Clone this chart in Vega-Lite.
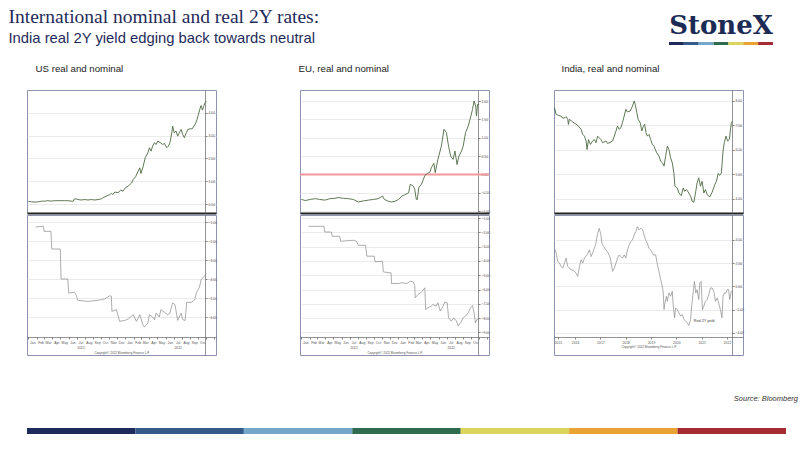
{
  "$schema": "https://vega.github.io/schema/vega-lite/v6.json",
  "background": "white",
  "padding": {"left": 8, "top": 7, "right": 0, "bottom": 0},
  "datasets": {
    "stripes": [
      {"seg": "a", "w": 1, "row": "s"}, {"seg": "b", "w": 1, "row": "s"}, {"seg": "c", "w": 1, "row": "s"}, {"seg": "d", "w": 1, "row": "s"},
      {"seg": "e", "w": 1, "row": "s"}, {"seg": "f", "w": 1, "row": "s"}, {"seg": "g", "w": 1, "row": "s"}
    ],
    "us_nom": [
      {"d": "2021-01-01", "v": 0.12}, {"d": "2021-01-13", "v": 0.10}, {"d": "2021-01-26", "v": 0.09}, {"d": "2021-02-08", "v": 0.10},
      {"d": "2021-02-20", "v": 0.13}, {"d": "2021-03-03", "v": 0.13}, {"d": "2021-03-15", "v": 0.15}, {"d": "2021-03-27", "v": 0.13},
      {"d": "2021-04-09", "v": 0.15}, {"d": "2021-04-22", "v": 0.15}, {"d": "2021-05-04", "v": 0.15}, {"d": "2021-05-16", "v": 0.15},
      {"d": "2021-05-29", "v": 0.15}, {"d": "2021-06-11", "v": 0.13}, {"d": "2021-06-19", "v": 0.13}, {"d": "2021-06-23", "v": 0.23},
      {"d": "2021-06-29", "v": 0.23}, {"d": "2021-07-06", "v": 0.20}, {"d": "2021-07-18", "v": 0.18}, {"d": "2021-08-01", "v": 0.20},
      {"d": "2021-08-13", "v": 0.18}, {"d": "2021-08-26", "v": 0.20}, {"d": "2021-09-08", "v": 0.18}, {"d": "2021-09-20", "v": 0.20},
      {"d": "2021-10-02", "v": 0.23}, {"d": "2021-10-09", "v": 0.28}, {"d": "2021-10-21", "v": 0.35}, {"d": "2021-11-03", "v": 0.42},
      {"d": "2021-11-09", "v": 0.47}, {"d": "2021-11-15", "v": 0.42}, {"d": "2021-11-22", "v": 0.53}, {"d": "2021-12-04", "v": 0.50},
      {"d": "2021-12-14", "v": 0.61}, {"d": "2021-12-23", "v": 0.57}, {"d": "2022-01-01", "v": 0.72}, {"d": "2022-01-11", "v": 0.79},
      {"d": "2022-01-24", "v": 0.93}, {"d": "2022-01-30", "v": 1.08}, {"d": "2022-02-08", "v": 1.20}, {"d": "2022-02-18", "v": 1.45},
      {"d": "2022-02-24", "v": 1.59}, {"d": "2022-02-28", "v": 1.34}, {"d": "2022-03-07", "v": 1.59}, {"d": "2022-03-16", "v": 2.03},
      {"d": "2022-03-26", "v": 2.25}, {"d": "2022-04-01", "v": 2.47}, {"d": "2022-04-07", "v": 2.32}, {"d": "2022-04-13", "v": 2.54},
      {"d": "2022-04-20", "v": 2.69}, {"d": "2022-04-26", "v": 2.61}, {"d": "2022-05-02", "v": 2.76}, {"d": "2022-05-12", "v": 2.69},
      {"d": "2022-05-21", "v": 2.61}, {"d": "2022-05-27", "v": 2.66}, {"d": "2022-06-05", "v": 2.47}, {"d": "2022-06-11", "v": 2.54},
      {"d": "2022-06-17", "v": 2.69}, {"d": "2022-06-24", "v": 3.12}, {"d": "2022-06-27", "v": 3.42}, {"d": "2022-07-03", "v": 3.12},
      {"d": "2022-07-10", "v": 3.20}, {"d": "2022-07-16", "v": 2.98}, {"d": "2022-07-22", "v": 3.12}, {"d": "2022-07-29", "v": 3.27},
      {"d": "2022-08-04", "v": 3.05}, {"d": "2022-08-10", "v": 2.91}, {"d": "2022-08-17", "v": 3.12}, {"d": "2022-08-23", "v": 3.27},
      {"d": "2022-09-01", "v": 3.30}, {"d": "2022-09-09", "v": 3.30}, {"d": "2022-09-15", "v": 3.42}, {"d": "2022-09-21", "v": 3.53},
      {"d": "2022-09-27", "v": 3.71}, {"d": "2022-10-02", "v": 3.93}, {"d": "2022-10-07", "v": 4.15}, {"d": "2022-10-12", "v": 4.32},
      {"d": "2022-10-17", "v": 4.12}, {"d": "2022-10-22", "v": 4.29}, {"d": "2022-10-27", "v": 4.44}, {"d": "2022-11-01", "v": 4.51}
    ],
    "us_real": [
      {"d": "2021-01-28", "v": -1.26}, {"d": "2021-02-20", "v": -1.23}, {"d": "2021-02-27", "v": -1.23}, {"d": "2021-03-01", "v": -1.49},
      {"d": "2021-03-27", "v": -1.49}, {"d": "2021-03-30", "v": -2.42}, {"d": "2021-05-01", "v": -2.42}, {"d": "2021-05-04", "v": -4.00},
      {"d": "2021-05-29", "v": -4.00}, {"d": "2021-06-02", "v": -4.74}, {"d": "2021-06-23", "v": -4.70}, {"d": "2021-06-29", "v": -4.82},
      {"d": "2021-07-06", "v": -5.12}, {"d": "2021-08-13", "v": -5.18}, {"d": "2021-09-20", "v": -5.12}, {"d": "2021-10-15", "v": -5.05},
      {"d": "2021-11-03", "v": -4.88}, {"d": "2021-11-09", "v": -4.91}, {"d": "2021-11-11", "v": -5.70}, {"d": "2021-11-28", "v": -5.61},
      {"d": "2021-12-10", "v": -6.23}, {"d": "2021-12-29", "v": -6.18}, {"d": "2022-01-11", "v": -6.11}, {"d": "2022-01-30", "v": -5.88},
      {"d": "2022-02-11", "v": -6.23}, {"d": "2022-02-24", "v": -5.88}, {"d": "2022-03-07", "v": -6.40}, {"d": "2022-03-13", "v": -6.53},
      {"d": "2022-03-26", "v": -6.32}, {"d": "2022-04-01", "v": -5.88}, {"d": "2022-04-13", "v": -6.00}, {"d": "2022-04-20", "v": -6.14},
      {"d": "2022-04-26", "v": -5.79}, {"d": "2022-05-08", "v": -6.00}, {"d": "2022-05-14", "v": -5.61}, {"d": "2022-05-27", "v": -5.75},
      {"d": "2022-06-09", "v": -5.88}, {"d": "2022-06-17", "v": -5.79}, {"d": "2022-06-27", "v": -5.26}, {"d": "2022-07-06", "v": -5.35},
      {"d": "2022-07-16", "v": -6.18}, {"d": "2022-07-29", "v": -5.79}, {"d": "2022-08-04", "v": -6.14}, {"d": "2022-08-13", "v": -6.18},
      {"d": "2022-08-19", "v": -5.23}, {"d": "2022-09-05", "v": -5.23}, {"d": "2022-09-18", "v": -5.09}, {"d": "2022-09-24", "v": -4.74},
      {"d": "2022-10-06", "v": -4.42}, {"d": "2022-10-12", "v": -4.04}, {"d": "2022-10-18", "v": -3.95}, {"d": "2022-11-01", "v": -3.72}
    ],
    "eu_nom": [
      {"d": "2021-01-01", "v": -0.68}, {"d": "2021-01-16", "v": -0.71}, {"d": "2021-02-04", "v": -0.68}, {"d": "2021-02-23", "v": -0.66},
      {"d": "2021-03-11", "v": -0.68}, {"d": "2021-03-30", "v": -0.70}, {"d": "2021-04-18", "v": -0.66}, {"d": "2021-05-07", "v": -0.65},
      {"d": "2021-05-19", "v": -0.63}, {"d": "2021-06-08", "v": -0.65}, {"d": "2021-06-26", "v": -0.66}, {"d": "2021-07-15", "v": -0.68},
      {"d": "2021-08-03", "v": -0.75}, {"d": "2021-08-22", "v": -0.72}, {"d": "2021-09-10", "v": -0.70}, {"d": "2021-09-29", "v": -0.68},
      {"d": "2021-10-17", "v": -0.66}, {"d": "2021-11-02", "v": -0.59}, {"d": "2021-11-09", "v": -0.68}, {"d": "2021-11-24", "v": -0.73},
      {"d": "2021-12-06", "v": -0.75}, {"d": "2021-12-19", "v": -0.73}, {"d": "2022-01-01", "v": -0.68}, {"d": "2022-01-14", "v": -0.59},
      {"d": "2022-01-26", "v": -0.55}, {"d": "2022-02-08", "v": -0.50}, {"d": "2022-02-14", "v": -0.27}, {"d": "2022-02-26", "v": -0.32},
      {"d": "2022-03-03", "v": -0.41}, {"d": "2022-03-09", "v": -0.68}, {"d": "2022-03-13", "v": -0.68}, {"d": "2022-03-18", "v": -0.36},
      {"d": "2022-03-28", "v": -0.27}, {"d": "2022-04-10", "v": -0.03}, {"d": "2022-04-20", "v": 0.03}, {"d": "2022-04-29", "v": 0.06},
      {"d": "2022-05-04", "v": 0.18}, {"d": "2022-05-14", "v": 0.30}, {"d": "2022-05-19", "v": 0.05}, {"d": "2022-05-29", "v": 0.41},
      {"d": "2022-06-11", "v": 0.77}, {"d": "2022-06-21", "v": 1.23}, {"d": "2022-06-30", "v": 1.14}, {"d": "2022-07-08", "v": 0.77},
      {"d": "2022-07-16", "v": 0.50}, {"d": "2022-07-25", "v": 0.41}, {"d": "2022-08-01", "v": 0.64}, {"d": "2022-08-09", "v": 0.27},
      {"d": "2022-08-16", "v": 0.50}, {"d": "2022-08-26", "v": 0.64}, {"d": "2022-09-01", "v": 0.77}, {"d": "2022-09-10", "v": 1.14},
      {"d": "2022-09-20", "v": 1.32}, {"d": "2022-09-30", "v": 1.59}, {"d": "2022-10-06", "v": 1.77}, {"d": "2022-10-12", "v": 2.00},
      {"d": "2022-10-18", "v": 1.86}, {"d": "2022-10-21", "v": 1.59}, {"d": "2022-10-25", "v": 1.91}, {"d": "2022-10-31", "v": 1.91}
    ],
    "eu_real": [
      {"d": "2021-01-28", "v": -1.58}, {"d": "2021-03-27", "v": -1.58}, {"d": "2021-03-30", "v": -1.98}, {"d": "2021-04-24", "v": -1.98},
      {"d": "2021-04-27", "v": -2.28}, {"d": "2021-05-25", "v": -2.28}, {"d": "2021-05-29", "v": -2.63}, {"d": "2021-06-26", "v": -2.58},
      {"d": "2021-07-15", "v": -2.56}, {"d": "2021-07-27", "v": -2.63}, {"d": "2021-08-03", "v": -2.91}, {"d": "2021-08-30", "v": -2.91},
      {"d": "2021-09-04", "v": -3.67}, {"d": "2021-10-02", "v": -3.67}, {"d": "2021-10-05", "v": -4.07}, {"d": "2021-11-02", "v": -4.02},
      {"d": "2021-11-05", "v": -4.77}, {"d": "2021-12-04", "v": -4.84}, {"d": "2021-12-06", "v": -5.58}, {"d": "2022-01-01", "v": -5.58},
      {"d": "2022-01-14", "v": -5.53}, {"d": "2022-02-02", "v": -5.58}, {"d": "2022-02-14", "v": -5.42}, {"d": "2022-02-26", "v": -5.47},
      {"d": "2022-03-03", "v": -5.72}, {"d": "2022-03-05", "v": -6.58}, {"d": "2022-03-15", "v": -6.35}, {"d": "2022-03-28", "v": -6.19},
      {"d": "2022-04-10", "v": -5.88}, {"d": "2022-04-13", "v": -7.40}, {"d": "2022-04-22", "v": -7.28}, {"d": "2022-05-04", "v": -7.16},
      {"d": "2022-05-10", "v": -7.05}, {"d": "2022-05-23", "v": -7.16}, {"d": "2022-05-29", "v": -6.93}, {"d": "2022-06-07", "v": -7.51},
      {"d": "2022-06-14", "v": -7.28}, {"d": "2022-06-24", "v": -6.88}, {"d": "2022-07-03", "v": -6.93}, {"d": "2022-07-08", "v": -7.98},
      {"d": "2022-07-18", "v": -8.21}, {"d": "2022-07-28", "v": -7.98}, {"d": "2022-08-07", "v": -8.21}, {"d": "2022-08-13", "v": -8.56},
      {"d": "2022-08-22", "v": -8.33}, {"d": "2022-09-01", "v": -7.98}, {"d": "2022-09-10", "v": -7.86}, {"d": "2022-09-20", "v": -7.63},
      {"d": "2022-09-29", "v": -7.28}, {"d": "2022-10-06", "v": -7.12}, {"d": "2022-10-12", "v": -7.63}, {"d": "2022-10-17", "v": -8.33},
      {"d": "2022-10-25", "v": -8.05}, {"d": "2022-10-31", "v": -8.05}
    ],
    "in_nom": [
      {"d": "2015-09-08", "v": 7.73}, {"d": "2015-10-02", "v": 7.45}, {"d": "2015-11-05", "v": 7.41}, {"d": "2015-12-13", "v": 7.38},
      {"d": "2016-01-06", "v": 7.29}, {"d": "2016-02-09", "v": 7.32}, {"d": "2016-02-23", "v": 7.36}, {"d": "2016-03-17", "v": 7.25},
      {"d": "2016-03-27", "v": 7.04}, {"d": "2016-04-10", "v": 7.25}, {"d": "2016-05-28", "v": 7.14}, {"d": "2016-08-08", "v": 7.00},
      {"d": "2016-09-26", "v": 6.84}, {"d": "2016-10-19", "v": 6.63}, {"d": "2016-11-13", "v": 6.56}, {"d": "2016-12-07", "v": 6.36},
      {"d": "2016-12-21", "v": 6.01}, {"d": "2017-01-10", "v": 6.42}, {"d": "2017-02-08", "v": 6.22}, {"d": "2017-03-11", "v": 6.36},
      {"d": "2017-04-05", "v": 6.42}, {"d": "2017-04-28", "v": 6.29}, {"d": "2017-05-22", "v": 6.56}, {"d": "2017-06-15", "v": 6.49},
      {"d": "2017-07-09", "v": 6.42}, {"d": "2017-08-02", "v": 6.29}, {"d": "2017-09-20", "v": 6.36}, {"d": "2017-10-13", "v": 6.26},
      {"d": "2017-11-30", "v": 6.32}, {"d": "2017-12-24", "v": 6.36}, {"d": "2018-01-17", "v": 6.56}, {"d": "2018-02-11", "v": 6.77},
      {"d": "2018-03-05", "v": 6.97}, {"d": "2018-03-28", "v": 6.84}, {"d": "2018-04-22", "v": 6.90}, {"d": "2018-05-15", "v": 7.11},
      {"d": "2018-06-09", "v": 7.38}, {"d": "2018-07-03", "v": 7.66}, {"d": "2018-07-26", "v": 7.55}, {"d": "2018-09-04", "v": 7.59},
      {"d": "2018-10-07", "v": 7.79}, {"d": "2018-10-31", "v": 8.00}, {"d": "2018-11-15", "v": 7.86}, {"d": "2018-12-09", "v": 7.52},
      {"d": "2018-12-27", "v": 7.25}, {"d": "2019-01-26", "v": 7.11}, {"d": "2019-02-19", "v": 6.77}, {"d": "2019-03-13", "v": 6.97},
      {"d": "2019-04-01", "v": 7.04}, {"d": "2019-04-20", "v": 6.70}, {"d": "2019-05-09", "v": 6.56}, {"d": "2019-06-02", "v": 6.63},
      {"d": "2019-06-26", "v": 6.42}, {"d": "2019-07-20", "v": 6.22}, {"d": "2019-08-13", "v": 6.15}, {"d": "2019-09-21", "v": 5.88},
      {"d": "2019-10-24", "v": 5.74}, {"d": "2019-11-18", "v": 5.53}, {"d": "2019-12-11", "v": 5.47}, {"d": "2020-01-05", "v": 5.33},
      {"d": "2020-01-28", "v": 5.74}, {"d": "2020-02-22", "v": 6.15}, {"d": "2020-03-16", "v": 6.01}, {"d": "2020-04-09", "v": 5.67},
      {"d": "2020-05-03", "v": 5.47}, {"d": "2020-05-26", "v": 5.05}, {"d": "2020-06-10", "v": 4.51}, {"d": "2020-07-13", "v": 4.44},
      {"d": "2020-08-07", "v": 4.23}, {"d": "2020-09-10", "v": 4.12}, {"d": "2020-10-08", "v": 4.44}, {"d": "2020-10-27", "v": 4.30},
      {"d": "2020-11-25", "v": 4.37}, {"d": "2020-12-28", "v": 4.23}, {"d": "2021-01-22", "v": 4.10}, {"d": "2021-02-15", "v": 3.89},
      {"d": "2021-03-09", "v": 3.85}, {"d": "2021-04-03", "v": 4.23}, {"d": "2021-04-26", "v": 4.64}, {"d": "2021-05-20", "v": 4.85},
      {"d": "2021-06-13", "v": 4.51}, {"d": "2021-07-07", "v": 4.71}, {"d": "2021-08-01", "v": 4.23}, {"d": "2021-08-24", "v": 4.37},
      {"d": "2021-09-18", "v": 4.16}, {"d": "2021-10-26", "v": 4.07}, {"d": "2021-11-29", "v": 4.26}, {"d": "2022-01-07", "v": 4.58},
      {"d": "2022-01-30", "v": 4.71}, {"d": "2022-02-24", "v": 5.03}, {"d": "2022-03-17", "v": 4.95}, {"d": "2022-04-11", "v": 5.05},
      {"d": "2022-05-05", "v": 5.95}, {"d": "2022-05-23", "v": 6.29}, {"d": "2022-06-17", "v": 6.56}, {"d": "2022-07-10", "v": 6.36},
      {"d": "2022-08-04", "v": 6.42}, {"d": "2022-08-18", "v": 6.77}, {"d": "2022-09-02", "v": 7.11}, {"d": "2022-09-21", "v": 7.18}
    ],
    "in_real": [
      {"d": "2015-09-08", "v": 3.29}, {"d": "2015-10-02", "v": 2.86}, {"d": "2015-10-25", "v": 2.14}, {"d": "2015-11-19", "v": 2.00},
      {"d": "2015-12-13", "v": 1.71}, {"d": "2016-01-06", "v": 1.57}, {"d": "2016-01-30", "v": 2.00}, {"d": "2016-02-23", "v": 2.43},
      {"d": "2016-03-17", "v": 1.71}, {"d": "2016-04-10", "v": 1.57}, {"d": "2016-05-04", "v": 1.43}, {"d": "2016-06-12", "v": 1.37},
      {"d": "2016-07-15", "v": 1.14}, {"d": "2016-08-08", "v": 0.86}, {"d": "2016-09-02", "v": 1.71}, {"d": "2016-09-26", "v": 2.29},
      {"d": "2016-10-19", "v": 2.00}, {"d": "2016-11-13", "v": 2.43}, {"d": "2016-12-21", "v": 2.71}, {"d": "2017-01-24", "v": 3.14},
      {"d": "2017-02-17", "v": 2.57}, {"d": "2017-03-11", "v": 2.86}, {"d": "2017-04-05", "v": 3.29}, {"d": "2017-04-28", "v": 3.71},
      {"d": "2017-05-22", "v": 4.57}, {"d": "2017-06-15", "v": 5.00}, {"d": "2017-07-09", "v": 4.43}, {"d": "2017-07-23", "v": 3.71},
      {"d": "2017-08-17", "v": 3.43}, {"d": "2017-09-20", "v": 3.14}, {"d": "2017-10-23", "v": 2.86}, {"d": "2017-11-21", "v": 2.43},
      {"d": "2017-12-24", "v": 1.29}, {"d": "2018-01-17", "v": 1.57}, {"d": "2018-02-11", "v": 2.00}, {"d": "2018-03-05", "v": 2.43},
      {"d": "2018-03-28", "v": 2.71}, {"d": "2018-04-22", "v": 2.57}, {"d": "2018-05-15", "v": 2.43}, {"d": "2018-06-09", "v": 2.71},
      {"d": "2018-07-03", "v": 2.43}, {"d": "2018-07-26", "v": 3.14}, {"d": "2018-08-20", "v": 3.57}, {"d": "2018-09-13", "v": 3.86},
      {"d": "2018-10-07", "v": 4.00}, {"d": "2018-10-31", "v": 4.43}, {"d": "2018-11-24", "v": 4.71}, {"d": "2018-12-18", "v": 5.14},
      {"d": "2019-01-11", "v": 4.86}, {"d": "2019-02-04", "v": 5.00}, {"d": "2019-02-28", "v": 4.91}, {"d": "2019-03-22", "v": 4.43},
      {"d": "2019-04-15", "v": 4.00}, {"d": "2019-05-09", "v": 3.71}, {"d": "2019-06-02", "v": 3.29}, {"d": "2019-06-26", "v": 3.14},
      {"d": "2019-08-04", "v": 2.71}, {"d": "2019-09-07", "v": 2.71}, {"d": "2019-10-01", "v": 1.86}, {"d": "2019-10-24", "v": 1.29},
      {"d": "2019-11-18", "v": 0.57}, {"d": "2019-12-11", "v": 0.00}, {"d": "2019-12-25", "v": -0.57}, {"d": "2020-01-05", "v": -2.00},
      {"d": "2020-01-14", "v": -1.57}, {"d": "2020-02-08", "v": -0.86}, {"d": "2020-02-22", "v": -1.29}, {"d": "2020-03-16", "v": -0.57},
      {"d": "2020-04-09", "v": -0.86}, {"d": "2020-05-03", "v": -0.43}, {"d": "2020-05-17", "v": -1.71}, {"d": "2020-06-06", "v": -2.71},
      {"d": "2020-06-20", "v": -1.86}, {"d": "2020-07-13", "v": -2.00}, {"d": "2020-08-07", "v": -2.29}, {"d": "2020-09-01", "v": -2.57},
      {"d": "2020-09-24", "v": -2.43}, {"d": "2020-10-18", "v": -2.86}, {"d": "2020-11-11", "v": -3.00}, {"d": "2020-12-05", "v": -3.14},
      {"d": "2020-12-28", "v": -3.37}, {"d": "2021-01-22", "v": -2.86}, {"d": "2021-02-06", "v": -1.71}, {"d": "2021-02-28", "v": -0.57},
      {"d": "2021-03-19", "v": 0.43}, {"d": "2021-04-07", "v": -0.57}, {"d": "2021-04-26", "v": -0.29}, {"d": "2021-05-20", "v": -1.14},
      {"d": "2021-06-04", "v": 0.29}, {"d": "2021-06-23", "v": 0.43}, {"d": "2021-07-12", "v": -2.00}, {"d": "2021-08-01", "v": -1.71},
      {"d": "2021-08-24", "v": -1.29}, {"d": "2021-09-18", "v": -1.14}, {"d": "2021-10-12", "v": -0.71}, {"d": "2021-11-05", "v": -0.14},
      {"d": "2021-11-29", "v": -0.14}, {"d": "2021-12-23", "v": -0.43}, {"d": "2022-01-16", "v": -1.29}, {"d": "2022-02-10", "v": -1.00},
      {"d": "2022-03-03", "v": -1.43}, {"d": "2022-03-27", "v": -2.00}, {"d": "2022-04-20", "v": -2.71}, {"d": "2022-05-05", "v": -0.86},
      {"d": "2022-05-23", "v": -0.57}, {"d": "2022-06-17", "v": -0.57}, {"d": "2022-07-01", "v": -0.29}, {"d": "2022-07-25", "v": -0.29},
      {"d": "2022-08-09", "v": -1.14}, {"d": "2022-09-02", "v": -0.43}, {"d": "2022-09-16", "v": -0.43}
    ]
  },
  "vconcat": [
    {
      "vconcat": [
        {
          "hconcat": [
            {
              "width": 600,
              "height": 3,
              "view": {"stroke": null},
              "title": {
                "text": "International nominal and real 2Y rates:",
                "subtitle": "India real 2Y yield edging back towards neutral",
                "anchor": "start",
                "font": "Liberation Serif",
                "fontSize": 19.5,
                "fontWeight": "normal",
                "color": "#1f2b5b",
                "subtitleFont": "Liberation Sans",
                "subtitleFontSize": 14.8,
                "subtitleColor": "#1f2b5b",
                "subtitlePadding": 3,
                "dx": -18,
                "offset": -5
              },
              "data": {"values": [{}]},
              "mark": {"type": "rule", "opacity": 0},
              "encoding": {}
            },
            {
              "width": 104,
              "height": 3,
              "view": {"stroke": null},
              "title": {
                "text": "StoneX",
                "anchor": "middle",
                "font": "DejaVu Serif",
                "fontSize": 26,
                "fontWeight": "bold",
                "color": "#1c2b55",
                "offset": 3
              },
              "data": {"name": "stripes"},
              "mark": {"type": "bar", "stroke": null},
              "encoding": {
                "x": {"field": "w", "type": "quantitative", "stack": "zero", "axis": null, "scale": {"domain": [0, 7], "nice": false}},
                "y": {"field": "row", "type": "nominal", "axis": null, "scale": {"paddingInner": 0, "paddingOuter": 0}},
                "color": {"field": "seg", "type": "nominal", "legend": null,
                  "scale": {"domain": ["a", "b", "c", "d", "e", "f", "g"], "range": ["#1f2a5c", "#345b8a", "#74a7c9", "#2e6b4f", "#dcd45c", "#e8a332", "#a62b33"]}},
                "order": {"field": "seg"}
              }
            }
          ],
          "spacing": 42
        },
        {
          "hconcat": [
            {
              "title": {"text": "US real and nominal", "anchor": "start", "dx": 9, "offset": 16},
              "vconcat": [
                {
                  "width": 189, "height": 123,
                  "data": {"name": "us_nom"},
                  "mark": {"type": "line", "color": "#4e6a43", "strokeWidth": 0.9, "clip": true},
                  "encoding": {
                    "x": {"field": "d", "type": "temporal", "scale": {"domain": [{"year": 2020, "month": 12, "date": 27}, {"year": 2022, "month": 12, "date": 7}]},
                      "axis": {"labels": false, "ticks": false, "grid": false, "domainColor": "#222", "domainWidth": 2, "title": null}},
                    "y": {"field": "v", "type": "quantitative", "scale": {"domain": [-0.39, 5.0], "nice": false, "zero": false},
                      "axis": {"orient": "right", "offset": -11, "values": [0, 1, 2, 3, 4], "format": ".2f", "title": null}}
                  }
                },
                {
                  "width": 189, "height": 140,
                  "data": {"name": "us_real"},
                  "mark": {"type": "line", "color": "#8a8a8a", "strokeWidth": 0.7, "clip": true},
                  "encoding": {
                    "x": {"field": "d", "type": "temporal", "scale": {"domain": [{"year": 2020, "month": 12, "date": 27}, {"year": 2022, "month": 12, "date": 7}]},
                      "axis": {"orient": "bottom", "offset": -18, "tickCount": {"interval": "month", "step": 1},
                        "labelExpr": "datum.value > datetime(2022, 9, 20) ? '' : (month(datum.value) == 6 ? [timeFormat(datum.value, '%b'), timeFormat(datum.value, '%Y')] : timeFormat(datum.value, '%b'))",
                        "labelOffset": 4, "labelOverlap": false, "labelFlush": false, "grid": false,
                        "title": "Copyright© 2022 Bloomberg Finance L.P."}},
                    "y": {"field": "v", "type": "quantitative", "scale": {"domain": [-8.0, -0.63], "nice": false, "zero": false},
                      "axis": {"orient": "right", "offset": -11, "values": [-6, -5, -4, -3, -2, -1], "format": ".2f", "title": null}}
                  }
                }
              ],
              "spacing": 0
            },
            {
              "hconcat": [
                {
                  "title": {"text": "EU, real and nominal", "anchor": "start", "dx": 0, "offset": 16},
                  "vconcat": [
                    {
                      "width": 189, "height": 123,
                      "layer": [
                        {
                          "data": {"values": [{"v": 0}]},
                          "mark": {"type": "rule", "color": "#f29a9a", "strokeWidth": 2},
                          "encoding": {"y": {"field": "v", "type": "quantitative"}}
                        },
                        {
                          "data": {"name": "eu_nom"},
                          "mark": {"type": "line", "color": "#4e6a43", "strokeWidth": 0.9, "clip": true},
                          "encoding": {
                            "x": {"field": "d", "type": "temporal", "scale": {"domain": [{"year": 2020, "month": 12, "date": 27}, {"year": 2022, "month": 12, "date": 7}]},
                              "axis": {"labels": false, "ticks": false, "grid": false, "domainColor": "#222", "domainWidth": 2, "title": null}},
                            "y": {"field": "v", "type": "quantitative"}
                          }
                        }
                      ],
                      "encoding": {
                        "y": {"field": "v", "type": "quantitative", "scale": {"domain": [-1.05, 2.3], "nice": false, "zero": false},
                          "axis": {"orient": "right", "offset": -11, "values": [-1, -0.5, 0, 0.5, 1, 1.5, 2], "format": ".2f", "title": null}}
                      }
                    },
                    {
                      "width": 189, "height": 140,
                      "data": {"name": "eu_real"},
                      "mark": {"type": "line", "color": "#8a8a8a", "strokeWidth": 0.7, "clip": true},
                      "encoding": {
                        "x": {"field": "d", "type": "temporal", "scale": {"domain": [{"year": 2020, "month": 12, "date": 27}, {"year": 2022, "month": 12, "date": 7}]},
                          "axis": {"orient": "bottom", "offset": -18, "tickCount": {"interval": "month", "step": 1},
                            "labelExpr": "datum.value > datetime(2022, 9, 20) ? '' : (month(datum.value) == 6 ? [timeFormat(datum.value, '%b'), timeFormat(datum.value, '%Y')] : timeFormat(datum.value, '%b'))",
                            "labelOffset": 4, "labelOverlap": false, "labelFlush": false, "grid": false,
                            "title": "Copyright© 2022 Bloomberg Finance L.P."}},
                        "y": {"field": "v", "type": "quantitative", "scale": {"domain": [-10.58, -0.79], "nice": false, "zero": false},
                          "axis": {"orient": "right", "offset": -11, "values": [-9, -8, -7, -6, -5, -4, -3, -2, -1], "format": ".2f", "title": null}}
                      }
                    }
                  ],
                  "spacing": 0
                },
                {
                  "title": {"text": "India, real and nominal", "anchor": "start", "dx": 8, "offset": 16},
                  "vconcat": [
                    {
                      "width": 189, "height": 123,
                      "data": {"name": "in_nom"},
                      "mark": {"type": "line", "color": "#4e6a43", "strokeWidth": 0.9, "clip": true},
                      "encoding": {
                        "x": {"field": "d", "type": "temporal", "scale": {"domain": [{"year": 2015, "month": 9, "date": 1}, {"year": 2023, "month": 2, "date": 17}]},
                          "axis": {"labels": false, "ticks": false, "grid": false, "domainColor": "#222", "domainWidth": 2, "title": null}},
                        "y": {"field": "v", "type": "quantitative", "scale": {"domain": [3.41, 8.45], "nice": false, "zero": false},
                          "axis": {"orient": "right", "offset": -11, "values": [4, 5, 6, 7, 8], "format": ".2f", "title": null}}
                      }
                    },
                    {
                      "width": 189, "height": 140,
                      "layer": [
                        {
                          "data": {"name": "in_real"},
                          "mark": {"type": "line", "color": "#8a8a8a", "strokeWidth": 0.7, "clip": true},
                          "encoding": {
                            "x": {"field": "d", "type": "temporal"},
                            "y": {"field": "v", "type": "quantitative"}
                          }
                        },
                        {
                          "data": {"values": [{"d": "2021-02-24", "v": -3.0, "label": "Real 2Y yield"}]},
                          "mark": {"type": "text", "fontSize": 3.5, "color": "#333", "align": "left", "dx": 1},
                          "encoding": {
                            "x": {"field": "d", "type": "temporal"},
                            "y": {"field": "v", "type": "quantitative"},
                            "text": {"field": "label"}
                          }
                        }
                      ],
                      "encoding": {
                        "x": {"field": "d", "type": "temporal", "scale": {"domain": [{"year": 2015, "month": 9, "date": 1}, {"year": 2023, "month": 2, "date": 17}]},
                          "axis": {"orient": "bottom", "offset": -18, "format": "%Y",
                            "values": [{"year": 2015, "month": 10, "date": 25}, {"year": 2016, "month": 7, "date": 1}, {"year": 2017, "month": 7, "date": 1},
                              {"year": 2018, "month": 7, "date": 1}, {"year": 2019, "month": 7, "date": 1}, {"year": 2020, "month": 7, "date": 1},
                              {"year": 2021, "month": 7, "date": 1}, {"year": 2022, "month": 7, "date": 1}],
                            "labelOverlap": false, "labelFlush": false, "grid": false,
                            "title": "Copyright© 2022 Bloomberg Finance L.P."}},
                        "y": {"field": "v", "type": "quantitative", "scale": {"domain": [-5.92, 6.15], "nice": false, "zero": false},
                          "axis": {"orient": "right", "offset": -11, "values": [-4, -2, 0, 2, 4], "format": ".2f", "title": null}}
                      }
                    }
                  ],
                  "spacing": 0
                }
              ],
              "spacing": 61
            }
          ],
          "spacing": 79
        }
      ],
      "spacing": 17
    },
    {
      "width": 759,
      "height": 6,
      "view": {"stroke": null},
      "title": {
        "text": "Source: Bloomberg",
        "anchor": "end",
        "font": "Liberation Sans",
        "fontSize": 7.5,
        "fontStyle": "italic",
        "fontWeight": "normal",
        "color": "#333",
        "offset": 26,
        "dx": 12
      },
      "data": {"name": "stripes"},
      "mark": {"type": "bar", "stroke": null},
      "encoding": {
        "x": {"field": "w", "type": "quantitative", "stack": "zero", "axis": null, "scale": {"domain": [0, 7], "nice": false}},
        "y": {"field": "row", "type": "nominal", "axis": null, "scale": {"paddingInner": 0, "paddingOuter": 0}},
        "color": {"field": "seg", "type": "nominal", "legend": null,
          "scale": {"domain": ["a", "b", "c", "d", "e", "f", "g"], "range": ["#1f2a5c", "#345b8a", "#74a7c9", "#2e6b4f", "#dcd45c", "#e8a332", "#a62b33"]}},
        "order": {"field": "seg"}
      }
    }
  ],
  "spacing": 38,
  "config": {
    "view": {"stroke": "#8c92b0", "strokeWidth": 1},
    "title": {"font": "Liberation Sans", "fontSize": 9.7, "fontWeight": "normal", "color": "#222"},
    "axis": {
      "labelFont": "Liberation Sans",
      "labelFontSize": 3.4,
      "labelColor": "#555",
      "labelPadding": 1,
      "gridColor": "#e2e2e2",
      "gridWidth": 0.7,
      "tickColor": "#888",
      "tickSize": 2,
      "domainColor": "#666",
      "domainWidth": 0.7,
      "titleFont": "Liberation Sans",
      "titleFontSize": 3,
      "titleFontWeight": "normal",
      "titleColor": "#555",
      "titlePadding": 2
    }
  }
}
